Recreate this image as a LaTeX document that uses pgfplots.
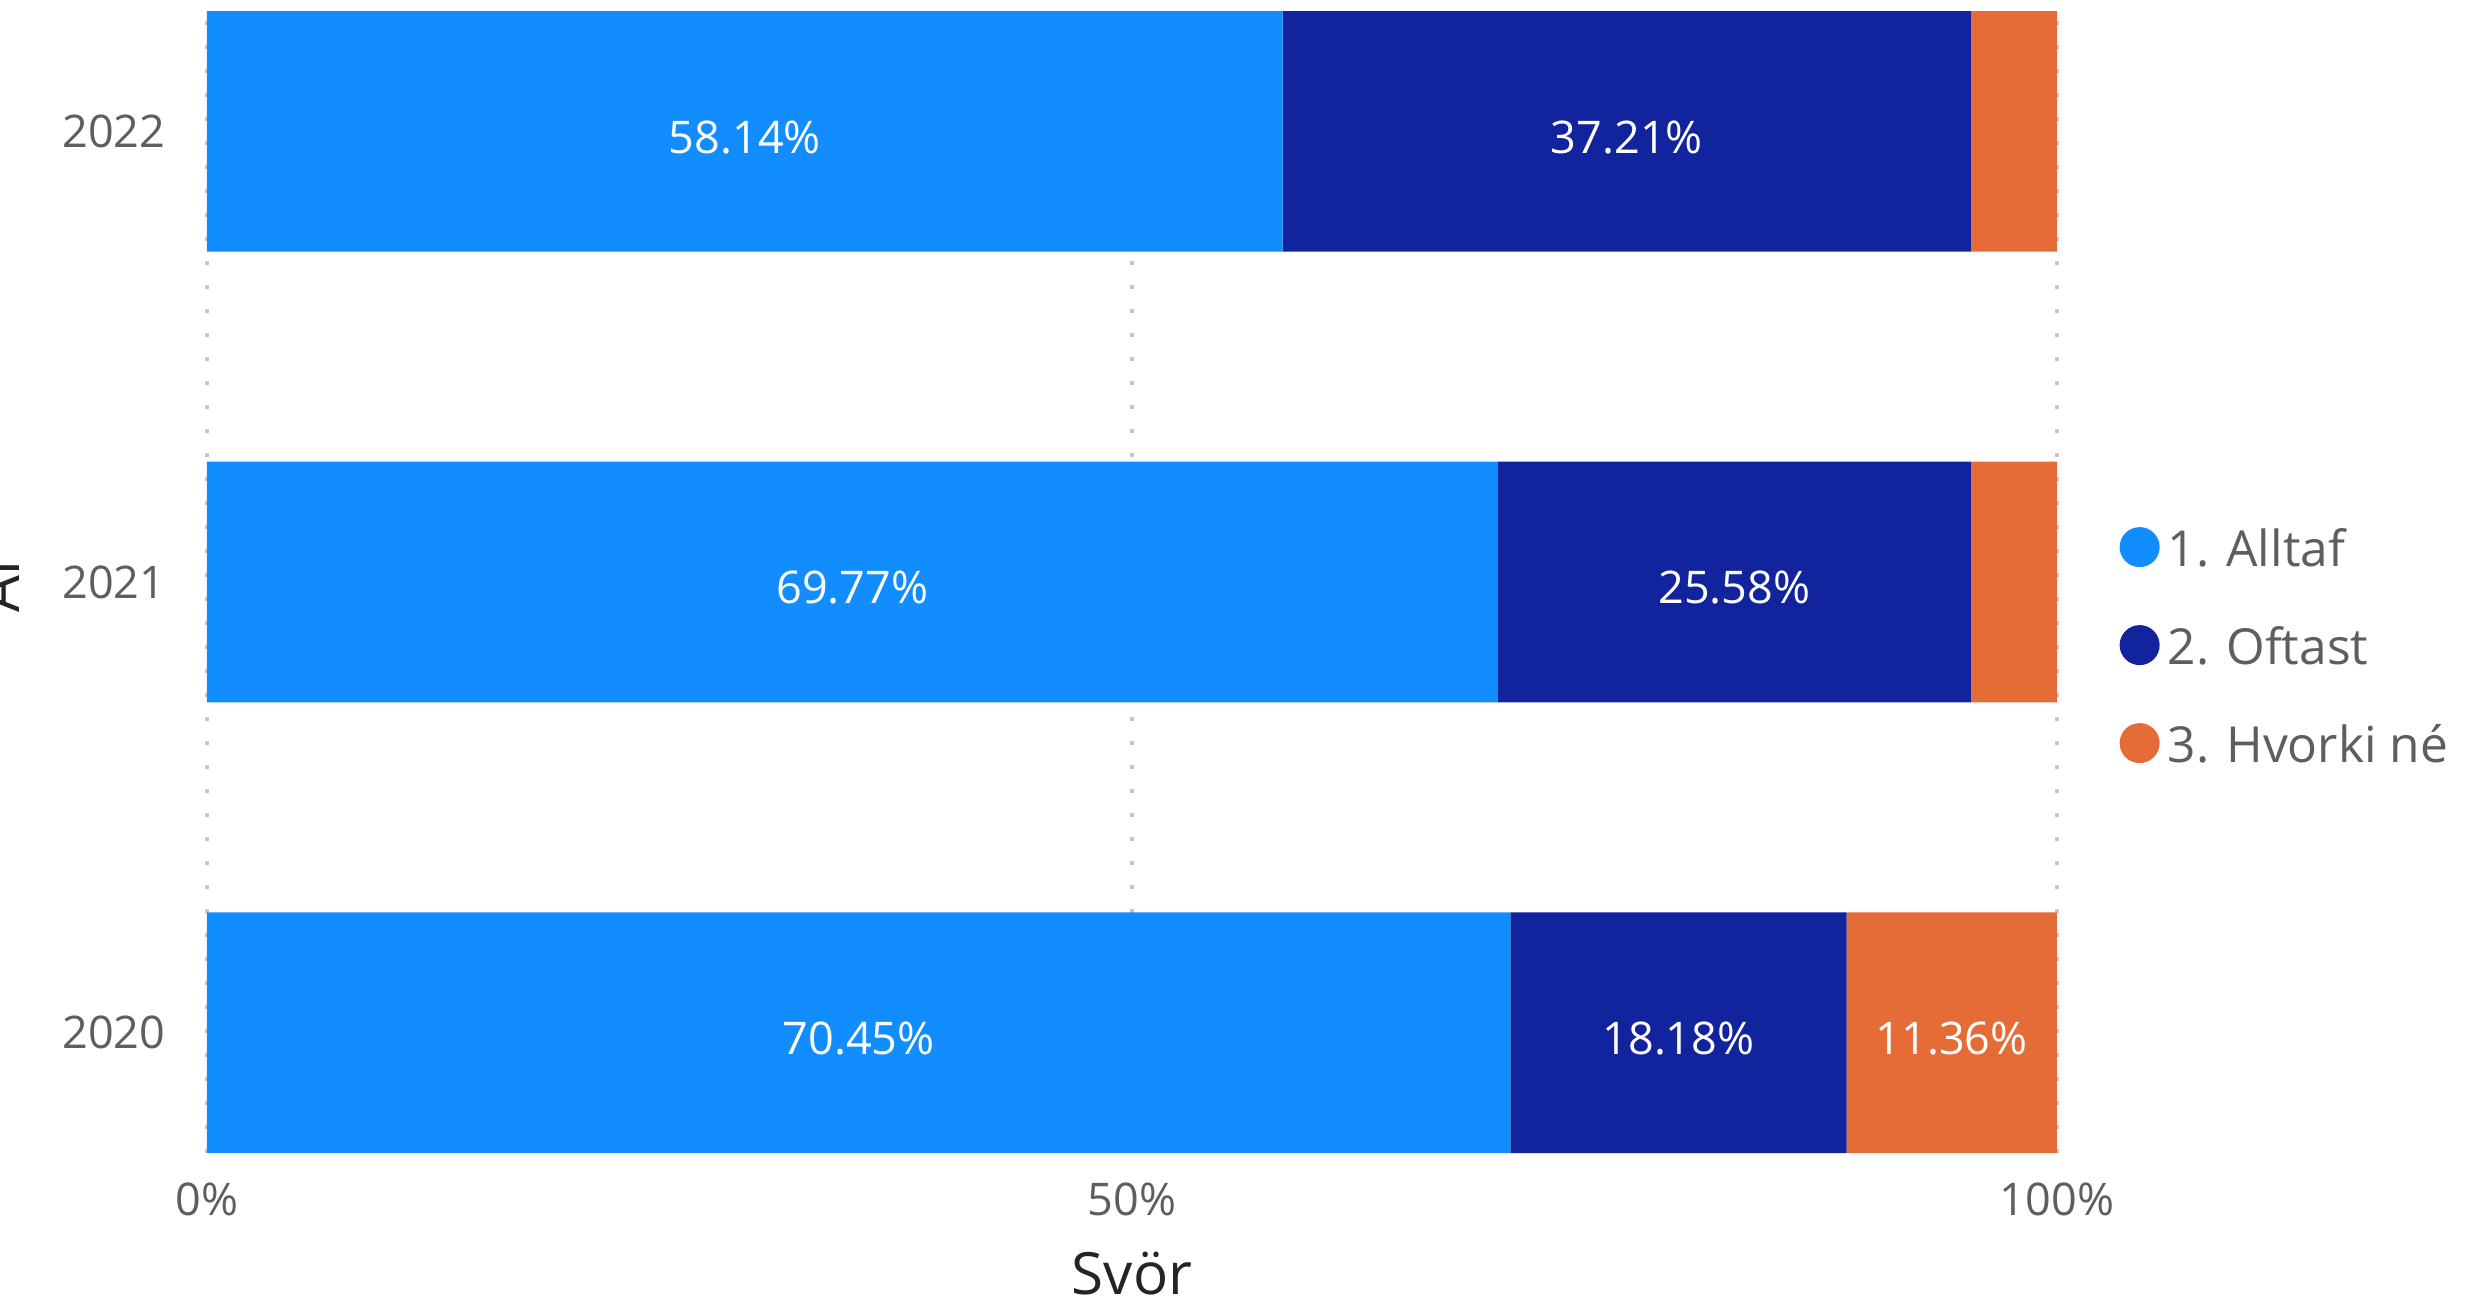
\documentclass[border=0pt]{standalone}
\usepackage{fontspec}
\setmainfont{Open Sans}
\usepackage{pgfplots}
\pgfplotsset{compat=1.18}
\definecolor{c1}{HTML}{118DFF}
\definecolor{c2}{HTML}{12239E}
\definecolor{c3}{HTML}{E66C37}
\definecolor{tickc}{HTML}{605E5C}
\definecolor{titlec}{HTML}{252423}
\definecolor{gridc}{HTML}{C8C6C4}
\tikzset{lbl/.style={font=\fontsize{13.5}{16}\selectfont, text=white, anchor=center, yshift=-1.8pt}}
\begin{document}
\begin{tikzpicture}
\useasboundingbox (0,0) rectangle (744.9pt,394.5pt);
\begin{axis}[
  at={(62.1pt,48.6pt)}, anchor=south west,
  width=555pt, height=342.6pt, scale only axis,
  xbar stacked, bar width=72.2pt,
  xmin=0, xmax=100, ymin=-0.267, ymax=2.267,
  xtick={0,50,100}, xticklabels={0\%,50\%,100\%},
  ytick={0,1,2}, yticklabels={2020,2021,2022},
  major tick length=0pt,
  axis line style={draw=none},
  xmajorgrids, ymajorgrids=false,
  grid style={color=gridc, line width=1.2pt, dash pattern=on 1.2pt off 6pt},
  tick label style={font=\fontsize{13.5}{16}\selectfont, text=tickc},
  xticklabel style={anchor=base, yshift=-18.75pt, inner sep=0pt},
  yticklabel style={anchor=east, xshift=-12.3pt, inner sep=0pt},
  xlabel={Svör}, ylabel={Ár},
  label style={font=\fontsize{17.5}{20}\selectfont, text=titlec},
  xlabel style={at={(axis description cs:0.5,-0.1235)}, anchor=base},
  ylabel style={at={(axis description cs:-0.1011,0.5)}, anchor=base},
  legend cell align=left,
  legend image code/.code={\fill[#1] (6pt,1.7pt) circle (6pt); \path (14.4pt,1.7pt);},
  legend style={at={(axis cs:103.35,0.85)}, anchor=west, draw=none, fill=none,
    inner sep=0pt, row sep=14.7pt,
    nodes={inner sep=0pt, text height=11pt, text depth=3pt},
    font=\fontsize{14.9}{17}\selectfont, text=tickc,
    /tikz/every even column/.append style={column sep=9.6pt}},
]
\addplot[fill=c1, draw=none] coordinates {(70.45,0) (69.77,1) (58.14,2)};
\addlegendentry{1. Alltaf}
\addplot[fill=c2, draw=none] coordinates {(18.18,0) (25.58,1) (37.21,2)};
\addlegendentry{2. Oftast}
\addplot[fill=c3, draw=none] coordinates {(11.36,0) (4.65,1) (4.65,2)};
\addlegendentry{3. Hvorki né}
\coordinate (l1) at (axis cs:29.07,2);
\coordinate (l2) at (axis cs:76.745,2);
\coordinate (l3) at (axis cs:34.885,1);
\coordinate (l4) at (axis cs:82.56,1);
\coordinate (l5) at (axis cs:35.225,0);
\coordinate (l6) at (axis cs:79.54,0);
\coordinate (l7) at (axis cs:94.31,0);
\end{axis}
\node[lbl] at (l1) {58.14\%};
\node[lbl] at (l2) {37.21\%};
\node[lbl] at (l3) {69.77\%};
\node[lbl] at (l4) {25.58\%};
\node[lbl] at (l5) {70.45\%};
\node[lbl] at (l6) {18.18\%};
\node[lbl] at (l7) {11.36\%};
\end{tikzpicture}
\end{document}
